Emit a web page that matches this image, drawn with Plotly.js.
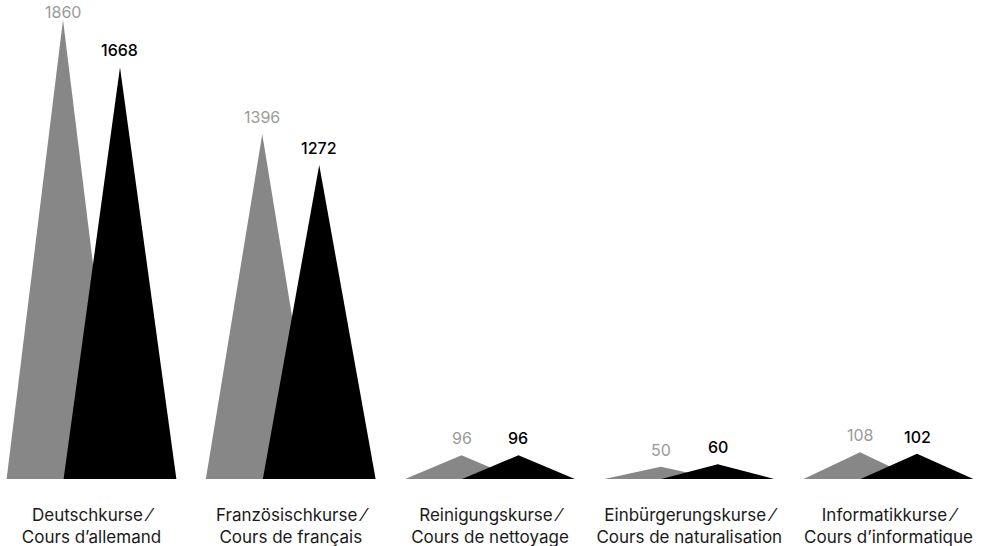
<!DOCTYPE html>
<html>
<head>
<meta charset="utf-8">
<script src="https://cdn.plot.ly/plotly-3.0.1.min.js"></script>
<style>html,body{margin:0;padding:0;background:#fff;}#chart{width:985px;height:546px;}</style>
</head>
<body>
<div id="chart"></div>
<script>
const categories = [
  "Deutschkurse ⁄<br>Cours d’allemand",
  "Französischkurse ⁄<br>Cours de français",
  "Reinigungskurse ⁄<br>Cours de nettoyage",
  "Einbürgerungskurse ⁄<br>Cours de naturalisation",
  "Informatikkurse ⁄<br>Cours d’informatique"
];
const seriesGrey = [1860, 1396, 96, 50, 108];
const seriesBlack = [1668, 1272, 96, 60, 102];
const greyLabels = ["1860", "1396", "96", "50", "108"];
const blackLabels = ["1668", "1272", "96", "60", "102"];

const GREY = "#878787";
const GREY_TEXT = "#9a9a9a";
const BLACK = "#000000";
const HALF = 0.283;   // half base width in category units
const OFF = 0.143;    // offset of each series from category centre
const YMAX = 1940;

function tri(i, v, dx) {
  const c = i + dx;
  return { x: [c - HALF, c, c + HALF, c - HALF], y: [0, v, 0, 0] };
}

const traces = [];
seriesGrey.forEach((v, i) => {
  const t = tri(i, v, -OFF);
  traces.push({ type: "scatter", mode: "lines", x: t.x, y: t.y, fill: "toself",
    fillcolor: GREY, line: { width: 0, color: GREY }, hoverinfo: "skip", showlegend: false });
});
seriesBlack.forEach((v, i) => {
  const t = tri(i, v, OFF);
  traces.push({ type: "scatter", mode: "lines", x: t.x, y: t.y, fill: "toself",
    fillcolor: BLACK, line: { width: 0, color: BLACK }, hoverinfo: "skip", showlegend: false });
});

const annotations = [];
const plotH = 479;
function labelShift(v) {
  const tipPx = plotH - v / YMAX * plotH;
  const want = 5;
  const topAllowed = 5 + 19;
  return Math.min(want, Math.max(-20, tipPx - topAllowed));
}
seriesGrey.forEach((v, i) => {
  annotations.push({ x: i - OFF, y: v, xref: "x", yref: "y", text: greyLabels[i], showarrow: false,
    yanchor: "bottom", yshift: labelShift(v), font: { family: "Inter, Lato, sans-serif", size: 16, color: GREY_TEXT } });
});
seriesBlack.forEach((v, i) => {
  annotations.push({ x: i + OFF, y: v, xref: "x", yref: "y", text: blackLabels[i], showarrow: false,
    yanchor: "bottom", yshift: labelShift(v), font: { family: "Inter, Lato, sans-serif", size: 16, color: "#000", weight: 500 } });
});

const layout = {
  width: 985, height: 546,
  margin: { l: 0, r: 0, t: 0, b: 67, pad: 0 },
  paper_bgcolor: "#fff", plot_bgcolor: "#fff",
  showlegend: false,
  xaxis: {
    range: [-0.4592, 4.4843], tickvals: [0, 1, 2, 3, 4], ticktext: categories,
    showgrid: false, zeroline: false, showline: false, ticks: "", fixedrange: true,
    ticklabelstandoff: 24,
    tickfont: { family: "Inter, Lato, sans-serif", size: 17, color: "#1a1a1a" }
  },
  yaxis: { range: [0, YMAX], showgrid: false, zeroline: false, showline: false,
    showticklabels: false, ticks: "", fixedrange: true },
  annotations: annotations
};

Plotly.newPlot("chart", traces, layout, { displayModeBar: false, staticPlot: true });
</script>
</body>
</html>
